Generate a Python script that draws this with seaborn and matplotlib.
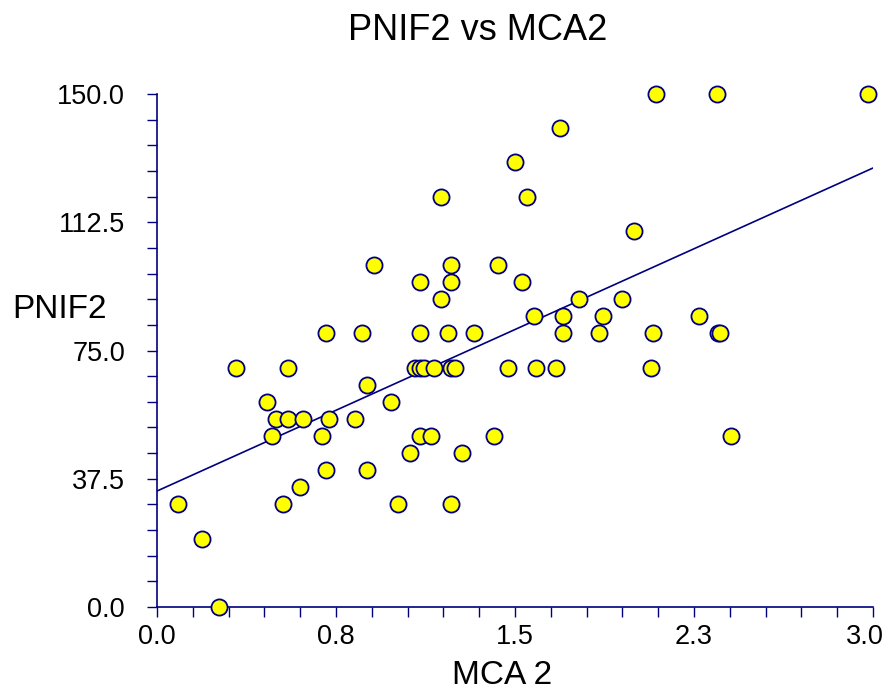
import matplotlib
matplotlib.use("Agg")
import matplotlib.pyplot as plt
import matplotlib.transforms as mtransforms
import seaborn as sns
import numpy as np
import pandas as pd

# values
mca2 = [0.09, 0.19, 0.26, 0.33, 0.46, 0.48, 0.50, 0.53, 0.55, 0.55,
        0.60, 0.61, 0.69, 0.71, 0.71, 0.72, 0.83, 0.86, 0.88, 0.88,
        0.91, 0.98, 1.01, 1.06, 1.08, 1.10, 1.12, 1.10, 1.10, 1.10,
        1.15, 1.16, 1.19, 1.19, 1.23, 1.23, 1.22, 1.23, 1.25, 1.23,
        1.28, 1.33, 1.41, 1.43, 1.47, 1.50, 1.53, 1.55, 1.58, 1.59,
        1.67, 1.69, 1.70, 1.70, 1.77, 1.85, 1.87, 1.95, 2.00, 2.07,
        2.08, 2.09, 2.27, 2.345, 2.35, 2.36, 2.405, 2.98]
pnif2 = [30, 20, 0, 70, 60, 50, 55, 30, 70, 55,
         35, 55, 50, 80, 40, 55, 55, 80, 65, 40,
         100, 60, 30, 45, 70, 70, 70, 95, 80, 50,
         50, 70, 90, 120, 100, 95, 80, 70, 70, 30,
         45, 80, 50, 100, 70, 130, 95, 120, 85, 70,
         70, 140, 85, 80, 90, 80, 85, 90, 110, 70,
         80, 150, 85, 150, 80, 80, 50, 150]

xticks = [0.0, 0.75, 1.5, 2.25, 3.0]
xticklabels = ["0.0", "0.8", "1.5", "2.3", "3.0"]
yticks = [0.0, 37.5, 75.0, 112.5, 150.0]
yticklabels = ["0.0", "37.5", "75.0", "112.5", "150.0"]

df = pd.DataFrame({"MCA 2": mca2, "PNIF2": pnif2})

sns.set_style("ticks")
plt.rcParams["font.family"] = ["Liberation Sans", "DejaVu Sans"]

navy = "#000080"

fig = plt.figure(figsize=(8.87, 6.89), dpi=100)
ax = fig.add_axes([157/887, 1 - 607/689, 716/887, 513/689])
ax.set_xlim(0, 3.0)
ax.set_ylim(0, 150)

# fitted line across the whole x range
sns.regplot(data=df, x="MCA 2", y="PNIF2", ax=ax, scatter=False, ci=None,
            truncate=False, line_kws={"color": navy, "lw": 1.2})
sns.scatterplot(data=df, x="MCA 2", y="PNIF2", ax=ax, s=135, color="#ffff00",
                edgecolor=navy, linewidth=1.3, clip_on=False, zorder=3)

ax.set_xlim(0, 3.0)
ax.set_ylim(0, 150)
ax.set_xticks(xticks)
ax.set_xticklabels(xticklabels)
ax.set_yticks(yticks)
ax.set_yticklabels(yticklabels)
ax.set_xticks(np.arange(0, 3.01, 0.15), minor=True)
ax.set_yticks(np.arange(0, 150.1, 7.5), minor=True)
ax.tick_params(which="both", direction="out", length=7, width=1, color=navy,
               labelsize=19.5, labelcolor="black")
ax.tick_params(axis="y", pad=16)
ax.tick_params(axis="x", pad=5)

# last x label is pushed left so it stays inside the figure
last = ax.get_xticklabels()[-1]
last.set_transform(last.get_transform() +
                   mtransforms.ScaledTranslation(-0.085, 0, fig.dpi_scale_trans))

sns.despine(ax=ax)
for s in ["left", "bottom"]:
    ax.spines[s].set_color(navy)
    ax.spines[s].set_linewidth(1.2)

ax.set_xlabel("MCA 2", fontsize=24, color="black", va="center")
ax.xaxis.set_label_coords(0.482, -0.1326)
ax.set_ylabel("PNIF2", fontsize=24, color="black", rotation=0,
              ha="center", va="center")
ax.yaxis.set_label_coords(-0.1355, 0.579)
fig.text(478/887, 1 - 31/689, "PNIF2 vs MCA2", fontsize=26, color="black",
         ha="center", va="center")

fig.savefig("out.png", dpi=100)
